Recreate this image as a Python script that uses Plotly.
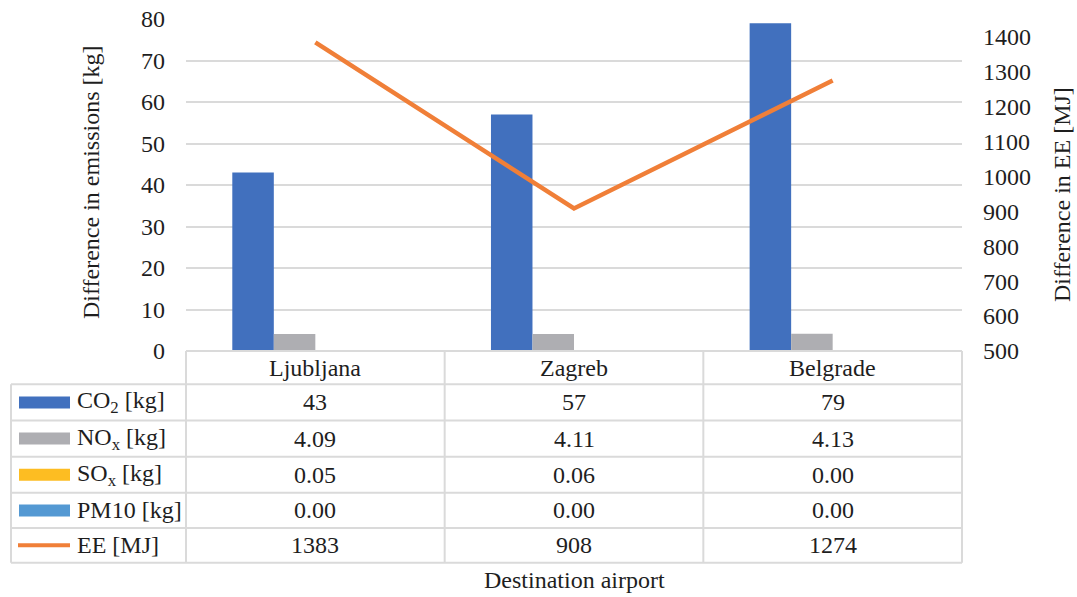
import plotly.graph_objects as go

# Data
airports = ["Ljubljana", "Zagreb", "Belgrade"]
co2 = [43, 57, 79]
nox = [4.09, 4.11, 4.13]
sox = [0.05, 0.06, 0.00]
pm10 = [0.00, 0.00, 0.00]
ee = [1383, 908, 1274]

series_names = ["CO<sub>2</sub> [kg]", "NO<sub>x</sub> [kg]", "SO<sub>x</sub> [kg]", "PM10 [kg]", "EE [MJ]"]
series_values = [co2, nox, sox, pm10, ee]
series_formats = ["{:.0f}", "{:.2f}", "{:.2f}", "{:.2f}", "{:.0f}"]
series_colors = ["#4170BE", "#AEAEB2", "#FDBD22", "#5499D3", "#F07F38"]

W, H = 1077, 597
L, R, T, B = 186, 115, 19, 246
PW, PH = W - L - R, H - T - B
BASE_FONT = "DejaVu Serif"
FONT = "serif"
FS = 24
TXT = "#1e1e1e"
GRID = "#dadada"


def px_x(x):
    return (x - L) / PW


def px_y(y):
    return (H - B - y) / PH


fig = go.Figure()
for i in range(4):
    fig.add_trace(go.Bar(x=airports, y=series_values[i], name=series_names[i],
                         marker=dict(color=series_colors[i], line=dict(width=0))))
fig.add_trace(go.Scatter(x=airports, y=ee, name=series_names[4], yaxis="y2", mode="lines",
                         line=dict(color=series_colors[4], width=4.5)))

shapes = []
annotations = []

# data table grid
row_lines = [351, 384.3, 420.5, 456.7, 492.8, 528.0, 562.7]
for k, y in enumerate(row_lines):
    x0 = L if k == 0 else 11
    shapes.append(dict(type="line", xref="paper", yref="paper", x0=px_x(x0), x1=1,
                       y0=px_y(y), y1=px_y(y), line=dict(color=GRID, width=2)))
col_lines = [L + PW * j / 3 for j in range(4)]
for x in col_lines:
    shapes.append(dict(type="line", xref="paper", yref="paper", x0=px_x(x), x1=px_x(x),
                       y0=px_y(351), y1=px_y(562.7), line=dict(color=GRID, width=2)))
shapes.append(dict(type="line", xref="paper", yref="paper", x0=px_x(11), x1=px_x(11),
                   y0=px_y(384.3), y1=px_y(562.7), line=dict(color=GRID, width=2)))

# category header row
for a in airports:
    annotations.append(dict(x=a, xref="x", y=px_y((351 + 384.3) / 2), yref="paper",
                            text=a, showarrow=False, xanchor="center", yanchor="middle",
                            font=dict(family=FONT, size=FS, color=TXT)))

# value rows with legend keys
for r in range(5):
    yc = (row_lines[r + 1] + row_lines[r + 2]) / 2
    if r < 4:
        shapes.append(dict(type="rect", xref="paper", yref="paper", x0=px_x(19), x1=px_x(70),
                           y0=px_y(yc + 6), y1=px_y(yc - 6), fillcolor=series_colors[r],
                           line=dict(width=0)))
    else:
        shapes.append(dict(type="line", xref="paper", yref="paper", x0=px_x(18), x1=px_x(70),
                           y0=px_y(yc), y1=px_y(yc), line=dict(color=series_colors[r], width=4)))
    annotations.append(dict(x=px_x(75), xref="paper", y=px_y(yc), yref="paper",
                            text=series_names[r], showarrow=False, xanchor="left", yanchor="middle",
                            font=dict(family=FONT, size=FS, color=TXT)))
    for a, v in zip(airports, series_values[r]):
        annotations.append(dict(x=a, xref="x", y=px_y(yc), yref="paper",
                                text=series_formats[r].format(v), showarrow=False,
                                xanchor="center", yanchor="middle",
                                font=dict(family=FONT, size=FS, color=TXT)))

# axis titles
annotations.append(dict(x=px_x(91), xref="paper", y=px_y(183), yref="paper",
                        text="Difference in emissions [kg]", textangle=-90, showarrow=False,
                        xanchor="center", yanchor="middle",
                        font=dict(family=FONT, size=FS, color=TXT)))
annotations.append(dict(x=px_x(1062), xref="paper", y=px_y(195), yref="paper",
                        text="Difference in EE [MJ]", textangle=-90, showarrow=False,
                        xanchor="center", yanchor="middle",
                        font=dict(family=FONT, size=FS, color=TXT)))
annotations.append(dict(x=0.5, xref="paper", y=px_y(580), yref="paper",
                        text="Destination airport", showarrow=False,
                        xanchor="center", yanchor="middle",
                        font=dict(family=FONT, size=FS, color=TXT)))

fig.update_layout(
    width=W, height=H,
    margin=dict(l=L, r=R, t=T, b=B, pad=0, autoexpand=False),
    paper_bgcolor="white", plot_bgcolor="white",
    showlegend=False,
    barmode="group", bargap=0.358, bargroupgap=0,
    font=dict(family=BASE_FONT, size=FS, color=TXT),
    xaxis=dict(showticklabels=False, showgrid=False, zeroline=False, showline=False,
               ticks="", fixedrange=True, automargin=False),
    yaxis=dict(range=[0, 80], dtick=10, showgrid=True, gridcolor=GRID, gridwidth=2,
               zeroline=False, showline=False, ticks="", ticklabelstandoff=20,
               automargin=False, tickfont=dict(family=FONT, size=FS, color=TXT)),
    yaxis2=dict(range=[500, 1450], tickvals=list(range(500, 1401, 100)), overlaying="y",
                side="right", showgrid=False, zeroline=False, showline=False, ticks="",
                ticklabelstandoff=20, automargin=False,
                tickfont=dict(family=FONT, size=FS, color=TXT)),
    shapes=shapes, annotations=annotations,
)

fig.write_html("out.html")
